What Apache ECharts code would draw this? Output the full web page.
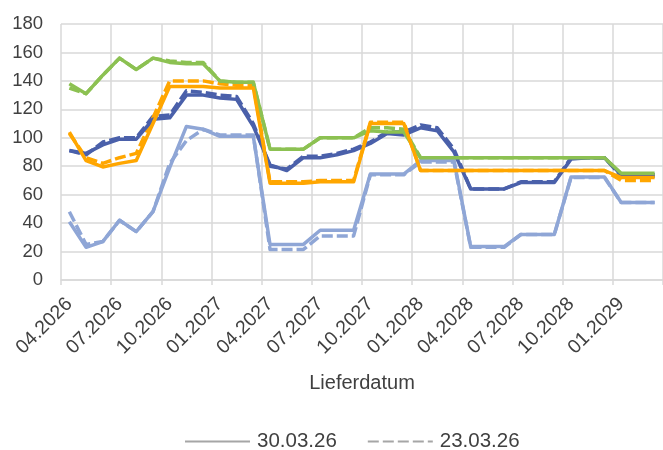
<!DOCTYPE html>
<html>
<head>
<meta charset="utf-8">
<script src="https://cdn.jsdelivr.net/npm/echarts@6/dist/echarts.min.js"></script>
<style>
  html, body { margin: 0; padding: 0; background: #fff; }
  #chart { width: 663px; height: 450px; }
</style>
</head>
<body>
<div id="chart"></div>
<script>
// Liefermonate (monatlich)
const months = [
  '04.2026','05.2026','06.2026','07.2026','08.2026','09.2026','10.2026','11.2026','12.2026',
  '01.2027','02.2027','03.2027','04.2027','05.2027','06.2027','07.2027','08.2027','09.2027',
  '10.2027','11.2027','12.2027','01.2028','02.2028','03.2028','04.2028','05.2028','06.2028',
  '07.2028','08.2028','09.2028','10.2028','11.2028','12.2028','01.2029','02.2029','03.2029'
]
const yTicks = [0, 20, 40, 60, 80, 100, 120, 140, 160, 180]

// Stand 30.03.26 (durchgezogen)
const greenNew  = [138,131,144,156,148,156,153,152,152,140,139,139,92,92,92,100,100,100,105,104,104,86,86,86,86,86,86,86,86,86,86,86,86,75,75,75]
const orangeNew = [104,84,79.5,82,84,110,136,136,136,135,135,135,68,68,68,69,69,69,110,110,110,77,77,77,77,77,77,77,77,77,77,77,77,72,72,72]
const darkNew   = [91,89,95,99,99,113,114,130,130,128,127,108,81,77,86,86,88,91,96,103,102,107,105,90,64,64,64,68.5,68.5,68.5,85,86,86,74,74,74]
const lightNew  = [41,23,27,42,34,48,79,108,106,101,101,101,25,25,25,35,35,35,74.5,74.5,74.5,84,84,84,23.5,23.5,23.5,32,32,32,72.5,72.5,72.5,54.5,54.5,54.5]

// Stand 23.03.26 (gestrichelt)
const greenOld  = [135,131,144,156,148,156,154,153,153,140,139,139,92,92,92,100,100,100,107,107,106,86,86,86,86,86,86,86,86,86,86,86,86,74,74,74]
const orangeOld = [103,86,82,86,89,114,140,140,140,138,137,137,69,69,69,70,70,70,111,111,111,77,77,77,77,77,77,77,77,77,77,77,77,70,70,70]
const darkOld   = [91,88,97,100,100,115,116,133,132,130,129,110,80,78,87,87,89,92,97,104,104,109,107,92,64,64,64,69,69,69,86,86,86,73,73,73]
const lightOld  = [48,25,27,42,34,48,82,98,106,102,102,102,21.5,21.5,21.5,31,31,31,74,74,74,83,83,83,23,23,23,32,32,32,72,72,72,54.5,54.5,54.5]

const colors = { green: '#8cc152', orange: '#ffa600', dark: '#4a60aa', light: '#8fa6d6', legend: '#a6a6a6' }
const dash = [11, 4]

//一条折线
function makeLine(name, data, color, dashed) {
  return {
    name: name,
    type: 'line',
    data: data,
    symbol: 'none',
    color: color,
    lineStyle: { width: 3.5, color: color, type: dashed ? dash : 'solid', cap: 'butt', join: 'round' },
    z: dashed ? 2 : 3
  }
}

const chart = echarts.init(document.getElementById('chart'))
chart.setOption({
  animation: false,
  textStyle: { fontFamily: 'Liberation Sans, Arial, sans-serif' },
  grid: { left: 61, right: 0, top: 24, bottom: 170 },
  legend: {
    data: ['30.03.26', '23.03.26'],
    top: 426,
    left: 179,
    itemWidth: 65,
    itemHeight: 3,
    itemGap: 30,
    itemStyle: { opacity: 0 },
    textStyle: { fontSize: 20.5, color: '#404040', padding: [0, 0, 0, 2] }
  },
  xAxis: {
    type: 'category',
    data: months,
    boundaryGap: true,
    name: 'Lieferdatum',
    nameLocation: 'middle',
    nameGap: 93,
    nameTextStyle: { fontSize: 20, color: '#404040' },
    axisLine: { lineStyle: { color: '#d9d9d9', width: 1.5 } },
    axisTick: { show: true, interval: 2, length: 5, lineStyle: { color: '#d9d9d9', width: 1.5 } },
    axisLabel: { interval: 2, rotate: 45, fontSize: 19.5, color: '#404040', margin: 21 },
    splitLine: { show: true, interval: 2, lineStyle: { color: '#d9d9d9', width: 1.5 } }
  },
  yAxis: {
    type: 'value',
    min: yTicks[0],
    max: yTicks[yTicks.length - 1],
    interval: yTicks[1] - yTicks[0],
    axisLine: { show: false },
    axisTick: { show: false },
    axisLabel: { fontSize: 18.5, color: '#404040', margin: 18 },
    splitLine: { lineStyle: { color: '#d9d9d9', width: 1.5 } }
  },
  series: [
    // nur für die Legende
    makeLine('30.03.26', [], colors.legend, false),
    makeLine('23.03.26', [], colors.legend, true),
    makeLine('Light 23.03.26', lightOld, colors.light, true),
    makeLine('Dark 23.03.26', darkOld, colors.dark, true),
    makeLine('Orange 23.03.26', orangeOld, colors.orange, true),
    makeLine('Green 23.03.26', greenOld, colors.green, true),
    makeLine('Light 30.03.26', lightNew, colors.light, false),
    makeLine('Dark 30.03.26', darkNew, colors.dark, false),
    makeLine('Green 30.03.26', greenNew, colors.green, false),
    makeLine('Orange 30.03.26', orangeNew, colors.orange, false)
  ]
})
</script>
</body>
</html>
